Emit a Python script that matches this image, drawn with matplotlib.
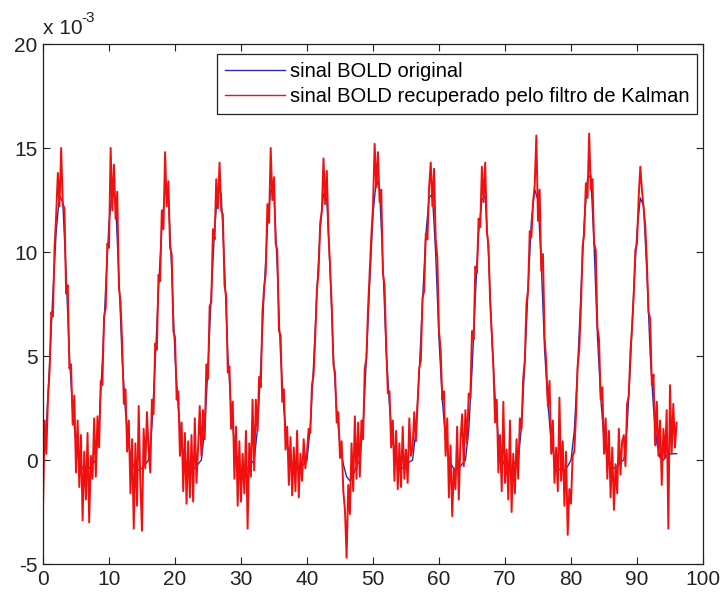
import numpy as np
import matplotlib
matplotlib.use("Agg")
import matplotlib.pyplot as plt

# ---------------- data (values in units of 1e-3) ----------------
t_start, t_end = 0.0, 96.0

bold_original = [
    0.0, 1.6, 4.6, 8.0, 11.0, 12.7, 12.4, 9.0, 5.0, 2.4, 0.8, 0.0, -0.4, -0.5, -0.4, -0.2,
    0.0, 1.7, 4.8, 8.3, 11.4, 13.0, 12.4, 8.8, 4.8, 2.3, 0.7, -0.1, -0.5, -0.5, -0.4, -0.2,
    0.0, 1.6, 4.7, 8.2, 11.2, 13.0, 12.6, 9.1, 5.0, 2.5, 0.8, 0.0, -0.4, -0.5, -0.4, -0.2,
    0.0, 1.5, 4.5, 8.0, 11.1, 13.1, 12.8, 9.3, 5.1, 2.5, 0.8, 0.0, -0.4, -0.5, -0.4, -0.2,
    0.0, 1.5, 4.5, 8.1, 11.2, 13.0, 12.7, 9.2, 5.0, 2.4, 0.8, 0.0, -0.3, -0.4, -0.3, -0.2,
    0.0, 1.6, 4.6, 8.1, 11.1, 12.8, 12.5, 9.1, 5.0, 2.4, 0.7, -0.2, -0.8, -1.0, -0.7, -0.3,
    0.0, 1.7, 4.9, 8.5, 11.8, 13.5, 13.0, 9.4, 5.2, 2.6, 0.9, 0.1, -0.3, -0.4, -0.3, -0.1,
    0.0, 1.4, 4.2, 7.6, 10.8, 12.6, 12.8, 9.9, 5.8, 2.9, 1.0, 0.1, -0.3, -0.5, -0.4, -0.2,
    0.0, 1.4, 4.3, 7.8, 10.9, 12.5, 12.7, 9.9, 5.9, 3.0, 1.0, 0.1, -0.3, -0.4, -0.3, -0.1,
    0.0, 1.6, 4.7, 8.3, 11.5, 13.0, 12.5, 9.4, 5.3, 2.7, 0.9, 0.0, -0.4, -0.5, -0.5, -0.3,
    0.0, 1.4, 4.4, 8.0, 11.4, 13.5, 13.7, 10.3, 6.0, 3.0, 1.0, 0.1, -0.3, -0.4, -0.3, -0.1,
    0.0, 1.6, 4.6, 8.1, 11.0, 12.6, 12.2, 9.0, 5.1, 2.5, 0.8, 0.1, 0.0, 0.2, 0.3, 0.3,
    0.3,
]

bold_kalman = [
    # 0 - 8
    -2.4, 1.9, 0.3, 2.9, 4.3, 7.1, 6.9, 10.2, 11.8, 13.8, 12.2, 15.0, 12.3, 12.1, 8.0, 8.4,
    4.4, 4.6, 1.7, 3.1, -0.6, 1.9, -1.3, 1.2, -2.9, 0.4, -1.9, 1.3, -3.0, 0.2, -0.9, 2.0,
    # 8 - 16
    -0.8, 2.1, 0.6, 3.8, 3.6, 6.9, 7.3, 10.4, 10.2, 15.0, 12.0, 14.2, 11.6, 12.9, 8.3, 7.6,
    5.6, 2.7, 3.4, 0.4, 1.9, -1.6, 1.0, -3.3, 0.8, -2.2, 2.6, -1.1, -3.4, 1.5, -0.4, 2.3,
    # 16 - 24
    0.5, -0.6, 2.9, 2.2, 5.6, 5.3, 8.9, 8.6, 12.0, 11.1, 14.8, 12.2, 13.4, 10.2, 9.9, 6.2,
    5.9, 2.9, 3.3, 0.2, 1.8, -1.5, 1.3, -2.1, 0.9, -1.8, 1.2, -2.0, 2.0, -1.1, 0.6, 2.6,
    # 24 - 32
    0.2, 2.4, 1.0, 4.6, 3.9, 7.4, 7.6, 11.1, 10.6, 13.5, 12.1, 14.3, 12.0, 11.8, 8.4, 7.9,
    4.2, 4.5, 1.5, 2.8, -0.9, 1.6, -2.2, 0.9, -2.0, 0.3, -1.6, 1.4, -3.3, 0.8, -0.8, 2.9,
    # 32 - 40
    -0.5, 2.9, 1.4, 4.0, 3.5, 7.1, 8.3, 9.0, 12.3, 11.4, 15.0, 12.5, 13.6, 10.4, 10.1, 6.2,
    6.0, 2.8, 3.4, 0.5, 1.6, -1.2, 1.1, -1.7, 0.6, -1.5, 1.4, -1.8, 0.3, -1.0, 1.0, -0.4,
    # 40 - 48
    0.4, 1.5, 1.3, 3.6, 4.1, 5.9, 8.2, 9.0, 11.4, 12.0, 14.5, 12.3, 13.9, 11.0, 9.3, 7.4,
    4.6, 4.2, 1.8, 2.3, 0.1, 0.9, -1.5, -2.4, -4.7, -1.2, -2.6, 0.8, -1.5, 2.1, -0.9, 1.8,
    # 48 - 56
    -0.8, 1.9, 1.0, 4.4, 4.9, 7.3, 9.0, 10.8, 12.2, 15.2, 13.1, 14.8, 12.4, 13.0, 9.0, 8.4,
    5.5, 3.2, 3.3, 0.6, 1.9, -1.0, 1.4, -1.4, 0.8, -1.3, 1.6, -0.9, 0.5, -1.1, 2.0, 0.2,
    # 56 - 64
    0.6, 2.3, 0.9, 2.6, 4.4, 4.8, 7.8, 8.1, 10.9, 10.6, 13.1, 14.3, 12.2, 14.0, 10.6, 9.7,
    6.2, 5.3, 2.9, 3.3, 0.2, 2.0, -1.8, 0.7, -2.7, -0.4, -1.4, 1.6, -1.9, 0.9, 2.2, -0.3,
    # 64 - 72
    2.4, 0.8, 3.2, 3.0, 6.2, 5.8, 9.3, 9.0, 11.6, 11.2, 14.1, 12.4, 14.3, 11.0, 10.3, 7.6,
    6.1, 4.4, 1.8, 2.9, -0.6, 1.2, -1.5, 2.8, -1.1, 0.5, -1.9, 1.9, -2.5, 0.3, -1.6, 1.0,
    # 72 - 80
    -0.9, 2.0, 1.5, 3.9, 4.8, 7.5, 8.2, 11.0, 10.7, 12.4, 13.2, 15.6, 11.5, 13.0, 9.1, 9.9,
    5.9, 4.7, 2.6, 3.8, 0.3, 1.9, -1.1, 0.6, -1.5, 3.0, -1.0, 0.9, -2.2, 0.4, -3.6, -1.4,
    # 80 - 88
    -2.1, 0.2, 0.4, 2.1, 4.5, 5.3, 7.3, 10.2, 10.9, 13.3, 12.6, 15.7, 13.0, 13.5, 10.4, 10.1,
    6.4, 5.8, 2.9, 3.5, 0.3, 2.0, -0.9, 1.4, -1.8, 0.6, -2.4, -0.2, -1.6, 1.5, -0.7, 0.9,
    # 88 - 96
    1.2, -0.3, 2.7, 3.1, 5.2, 6.4, 7.9, 10.1, 10.4, 12.6, 14.1, 13.0, 12.1, 11.3, 9.5, 7.1,
    6.8, 3.6, 4.1, 0.7, 2.8, 0.2, 1.9, -1.2, 1.5, 0.1, 2.4, -3.3, 3.6, 0.3, 2.7, 0.6,
    1.8,
]

legend_labels = ["sinal BOLD original",
                 "sinal BOLD recuperado pelo filtro de Kalman"]
x_ticks = [0, 10, 20, 30, 40, 50, 60, 70, 80, 90, 100]
y_ticks = [-5, 0, 5, 10, 15, 20]

# ---------------- figure ----------------
W, H = 721, 595
fig = plt.figure(figsize=(W / 100, H / 100), dpi=100)
ax_left, ax_right, ax_top, ax_bottom = 43, 703, 44, 564
ax = fig.add_axes([ax_left / W, (H - ax_bottom) / H,
                   (ax_right - ax_left) / W, (ax_bottom - ax_top) / H])

t_orig = np.linspace(t_start, t_end, len(bold_original))
t_kal = np.linspace(t_start, t_end, len(bold_kalman))

blue = "#2a2aa6"
red = "#f01010"
ax.plot(t_orig, bold_original, color=blue, lw=1.0, label=legend_labels[0])
ax.plot(t_kal, bold_kalman, color=red, lw=1.4, label=legend_labels[1])

ax.set_xlim(0, 100)
ax.set_ylim(-5, 20)
ax.set_xticks(x_ticks)
ax.set_yticks(y_ticks)

tick_font = ["Liberation Sans Narrow", "Liberation Sans", "DejaVu Sans"]
ax.set_xticklabels([str(v) for v in x_ticks], family=tick_font, fontsize=15)
ax.set_yticklabels([str(v) for v in y_ticks], family=tick_font, fontsize=15)
ax.tick_params(direction="in", top=True, right=True, length=5, width=0.8,
               colors="#222222", pad=4)
for s in ax.spines.values():
    s.set_linewidth(0.9)
    s.set_color("#222222")

# exponent label (MATLAB style)
fig.text(ax_left / W, 1 - 34 / H, "x 10", family=tick_font, fontsize=15,
         color="#222222", va="baseline", ha="left")
fig.text(81 / W, 1 - 22 / H, "-3", family=tick_font, fontsize=11,
         color="#222222", va="baseline", ha="left")

leg = ax.legend(loc="upper right", bbox_to_anchor=(0.991, 0.981),
                prop={"family": ["Liberation Sans", "DejaVu Sans"], "size": 14.5},
                frameon=True, fancybox=False, shadow=False, framealpha=1,
                edgecolor="#222222", handlelength=3.0, handletextpad=0.2,
                borderpad=0.4, labelspacing=0.3, borderaxespad=0)
leg.get_frame().set_linewidth(0.9)
for h in leg.get_lines():
    h.set_linewidth(1.0)

fig.savefig("out.png", dpi=100)
